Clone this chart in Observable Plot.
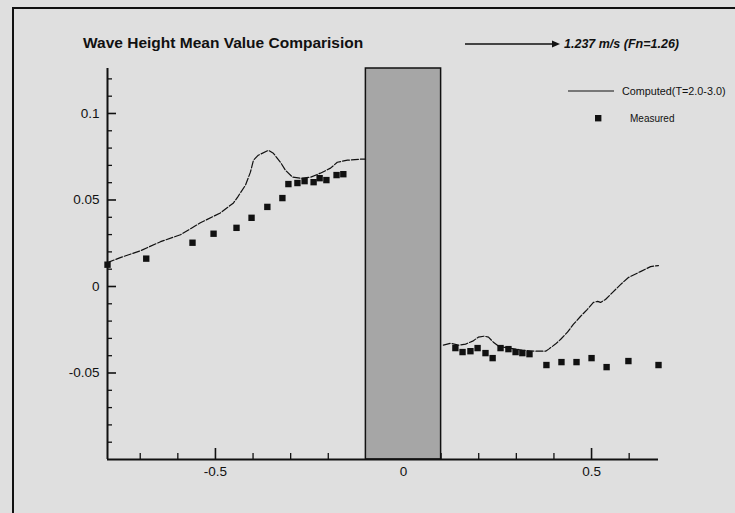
<!DOCTYPE html>
<html>
<head>
<meta charset="utf-8">
<script src="https://cdn.jsdelivr.net/npm/d3@7"></script>
<script src="https://cdn.jsdelivr.net/npm/@observablehq/plot@0.6"></script>
<style>
  html, body { margin: 0; padding: 0; background: #dfdfdf; overflow: hidden; }
  #chart { width: 735px; height: 513px; }
  #chart svg { display: block; }
</style>
</head>
<body>
<div id="chart"></div>
<script>
// Computed mean wave height (T = 2.0-3.0), ahead of the body
const computedFwdX = [-0.787, -0.753, -0.699, -0.646, -0.593, -0.540, -0.487, -0.452, -0.441, -0.420,
                      -0.407, -0.399, -0.386, -0.359, -0.346, -0.327, -0.314, -0.295, -0.274, -0.247,
                      -0.221, -0.194, -0.176, -0.149, -0.114, -0.101];
const computedFwdY = [0.0138, 0.0167, 0.0207, 0.0259, 0.0299, 0.0368, 0.0425, 0.0483, 0.0517, 0.0586,
                      0.0661, 0.0730, 0.0759, 0.0787, 0.0770, 0.0718, 0.0672, 0.0632, 0.0626, 0.0632,
                      0.0655, 0.0684, 0.0718, 0.0730, 0.0736, 0.0736];
// Computed mean wave height, behind the body
const computedAftX = [0.106, 0.125, 0.146, 0.165, 0.184, 0.199, 0.215, 0.226, 0.239, 0.253,
                      0.279, 0.316, 0.351, 0.378, 0.386, 0.404, 0.418, 0.436, 0.452, 0.471,
                      0.489, 0.505, 0.516, 0.524, 0.537, 0.556, 0.577, 0.598, 0.630, 0.657, 0.678];
const computedAftY = [-0.0339, -0.0328, -0.0339, -0.0333, -0.0316, -0.0293, -0.0287, -0.0293, -0.0322, -0.0345,
                      -0.0356, -0.0368, -0.0374, -0.0374, -0.0362, -0.0333, -0.0305, -0.0264, -0.0218, -0.0172,
                      -0.0132, -0.0092, -0.0086, -0.0092, -0.0075, -0.0034, 0.0011, 0.0052, 0.0086, 0.0115, 0.0121];
// Measured mean wave height
const measuredX = [-0.787, -0.684, -0.561, -0.505, -0.444, -0.404, -0.362, -0.322, -0.306, -0.282,
                   -0.263, -0.239, -0.223, -0.205, -0.178, -0.160,
                   0.138, 0.157, 0.178, 0.197, 0.218, 0.237, 0.258, 0.279, 0.298, 0.316,
                   0.335, 0.380, 0.420, 0.460, 0.500, 0.540, 0.598, 0.678];
const measuredY = [0.0126, 0.0161, 0.0253, 0.0305, 0.0339, 0.0397, 0.0460, 0.0511, 0.0592, 0.0598,
                   0.0609, 0.0603, 0.0626, 0.0615, 0.0644, 0.0649,
                   -0.0356, -0.0379, -0.0374, -0.0356, -0.0385, -0.0414, -0.0356, -0.0362, -0.0379, -0.0385,
                   -0.0391, -0.0454, -0.0437, -0.0437, -0.0414, -0.0466, -0.0431, -0.0454];

// Body extent along x
const bodyX = [-0.1, 0.1];

// Axes
const xDomain = [-0.787, 0.678];
const yDomain = [-0.1, 0.126];
const xMajorTicks = [-0.5, 0, 0.5];
const xTickLabels = ["-0.5", "0", "0.5"];
const xMinorTicks = [-0.7, -0.6, -0.4, -0.3, -0.2, -0.1, 0.1, 0.2, 0.3, 0.4, 0.6];
const yMajorTicks = [-0.05, 0, 0.05, 0.1];
const yTickLabels = ["-0.05", "0", "0.05", "0.1"];
const yMinorTicks = [-0.09, -0.08, -0.07, -0.06, -0.04, -0.03, -0.02, -0.01,
                     0.01, 0.02, 0.03, 0.04, 0.06, 0.07, 0.08, 0.09, 0.11, 0.12];

// Text
const titleText = "Wave Height Mean Value Comparision";
const speedText = "1.237 m/s (Fn=1.26)";
const computedLabel = "Computed(T=2.0-3.0)";
const measuredLabel = "Measured";

// Tables for the marks
const computed = [
  ...computedFwdX.map((x, i) => ({x, y: computedFwdY[i], part: "fwd"})),
  ...computedAftX.map((x, i) => ({x, y: computedAftY[i], part: "aft"}))
];
const measured = measuredX.map((x, i) => ({x, y: measuredY[i]}));
const body = [{x1: bodyX[0], x2: bodyX[1], y1: yDomain[0], y2: yDomain[1]}];

const W = 735, H = 513;
const mL = 107, mR = 77, mT = 68, mB = 54;
const plotW = W - mL - mR, plotH = H - mT - mB;
const ink = "#111";
const font = "'Liberation Sans', Arial, Helvetica, sans-serif";

const chart = Plot.plot({
  width: W, height: H,
  marginLeft: mL, marginRight: mR, marginTop: mT, marginBottom: mB,
  x: {domain: xDomain},
  y: {domain: yDomain},
  style: {background: "#dfdfdf", fontFamily: font, color: ink},
  marks: [
    // inward ticks along the left axis
    Plot.tickY(yMajorTicks, {y: d => d, insetRight: plotW - 9, stroke: ink, strokeWidth: 1.6}),
    Plot.tickY(yMinorTicks, {y: d => d, insetRight: plotW - 5, stroke: ink, strokeWidth: 1.3}),
    // inward ticks along the bottom axis
    Plot.tickX(xMajorTicks, {x: d => d, insetTop: plotH - 11, stroke: ink, strokeWidth: 1.6}),
    Plot.tickX(xMinorTicks, {x: d => d, insetTop: plotH - 6, stroke: ink, strokeWidth: 1.3}),
    Plot.axisY(yMajorTicks, {tickSize: 0, tickPadding: 8, label: null, fontSize: 13.5,
      tickFormat: d => yTickLabels[yMajorTicks.indexOf(d)]}),
    Plot.axisX(xMajorTicks, {tickSize: 0, tickPadding: 7, label: null, fontSize: 13.5,
      tickFormat: d => xTickLabels[xMajorTicks.indexOf(d)]}),
    // the body
    Plot.rect(body, {x1: "x1", x2: "x2", y1: "y1", y2: "y2", fill: "#a6a6a6", stroke: ink, strokeWidth: 1.5}),
    // axis lines
    Plot.ruleX([xDomain[0]], {stroke: ink, strokeWidth: 2}),
    Plot.ruleY([yDomain[0]], {stroke: ink, strokeWidth: 2}),
    // computed curve
    Plot.line(computed, {x: "x", y: "y", z: "part", stroke: ink, strokeWidth: 1.2, strokeDasharray: "7,2"}),
    // measured points
    Plot.dot(measured, {x: "x", y: "y", symbol: "square", r: 3.6, fill: ink, stroke: "none"})
  ]
});

document.getElementById("chart").appendChild(chart);

// Outer frame, title, speed arrow and legend
const svg = d3.select(chart);
const g = svg.append("g").attr("font-family", font).attr("fill", ink).attr("text-anchor", "start");

g.append("path").attr("d", `M13,${H}V8H${W}`)
  .attr("fill", "none").attr("stroke", ink).attr("stroke-width", 2);

g.append("text").attr("x", 83).attr("y", 48)
  .attr("font-size", 15.5).attr("font-weight", "bold").text(titleText);

g.append("line").attr("x1", 465).attr("x2", 554).attr("y1", 44).attr("y2", 44)
  .attr("stroke", ink).attr("stroke-width", 1.6);
g.append("path").attr("d", "M552,40.5L560,44L552,47.5Z").attr("fill", ink);
g.append("text").attr("x", 564).attr("y", 48)
  .attr("font-size", 12.5).attr("font-weight", "bold").attr("font-style", "italic").text(speedText);

g.append("line").attr("x1", 568).attr("x2", 614).attr("y1", 91).attr("y2", 91)
  .attr("stroke", ink).attr("stroke-width", 1.2);
g.append("text").attr("x", 622).attr("y", 95)
  .attr("font-size", 10.8).text(computedLabel);
g.append("rect").attr("x", 595).attr("y", 115).attr("width", 6.4).attr("height", 6.4).attr("fill", ink);
g.append("text").attr("x", 630).attr("y", 122)
  .attr("font-size", 10).text(measuredLabel);
</script>
</body>
</html>
